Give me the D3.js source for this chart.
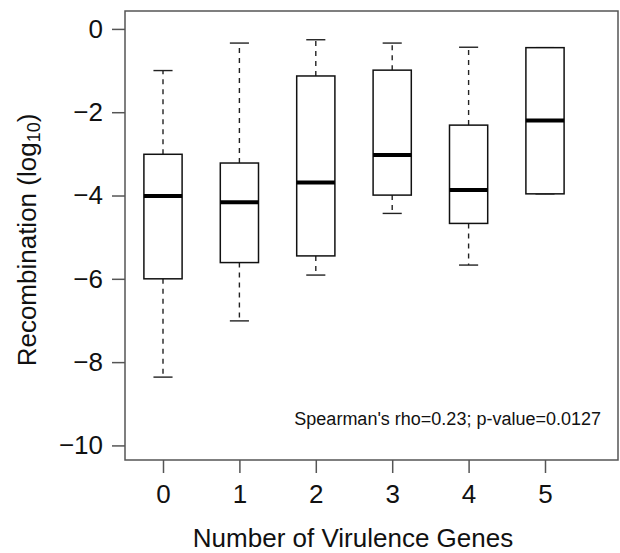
<!DOCTYPE html>
<html>
<head>
<meta charset="utf-8">
<script src="https://cdn.jsdelivr.net/npm/d3@7"></script>
<style>
  html, body { margin: 0; padding: 0; background: #fff; }
  svg { display: block; font-family: "Liberation Sans", Arial, Helvetica, sans-serif; }
</style>
</head>
<body>
<svg id="chart" width="620" height="553"></svg>
<script>
// Recombination (log10) by number of virulence genes: box summaries per group
const genes       = [0, 1, 2, 3, 4, 5];
const whiskerLow  = [-8.36, -7.01, -5.91, -4.43, -5.67, -3.96];
const q1          = [-6.00, -5.61, -5.45, -3.99, -4.67, -3.96];
const medians     = [-4.01, -4.16, -3.69, -3.03, -3.87, -2.20];
const q3          = [-3.01, -3.22, -1.13, -0.99, -2.31, -0.45];
const whiskerHigh = [-1.00, -0.34, -0.26, -0.34, -0.44, -0.45];

const yTicks = [0, -2, -4, -6, -8, -10];
const xTicks = [0, 1, 2, 3, 4, 5];
const statsText = "Spearman's rho=0.23; p-value=0.0127";

const svg = d3.select("#chart");

const frame = { left: 125, top: 11, right: 618, bottom: 460 };

const x = d3.scaleLinear().domain([0, 5]).range([163, 545]);
const y = d3.scaleLinear().domain([-10.35, 0.43]).range([frame.bottom, frame.top]);

const boxWidth = 0.5;      // in group units
const capWidth = 0.25;

const groups = genes.map((g, i) => ({
  g, lo: whiskerLow[i], q1: q1[i], med: medians[i], q3: q3[i], hi: whiskerHigh[i]
}));

const bw = x(boxWidth) - x(0);
const cw = x(capWidth) - x(0);

const plot = svg.append("g");

// whiskers (dashed) and caps
const wh = plot.selectAll("g.whisker").data(groups).join("g").attr("class", "whisker");
wh.append("line")
  .attr("x1", d => x(d.g)).attr("x2", d => x(d.g))
  .attr("y1", d => y(d.q3)).attr("y2", d => y(d.hi))
  .attr("stroke", "#222").attr("stroke-width", 1.4).attr("stroke-dasharray", "5,5");
wh.append("line")
  .attr("x1", d => x(d.g)).attr("x2", d => x(d.g))
  .attr("y1", d => y(d.q1)).attr("y2", d => y(d.lo))
  .attr("stroke", "#222").attr("stroke-width", 1.4).attr("stroke-dasharray", "5,5");
wh.append("line")
  .attr("x1", d => x(d.g) - cw / 2).attr("x2", d => x(d.g) + cw / 2)
  .attr("y1", d => y(d.hi)).attr("y2", d => y(d.hi))
  .attr("stroke", "#222").attr("stroke-width", 1.4);
wh.append("line")
  .attr("x1", d => x(d.g) - cw / 2).attr("x2", d => x(d.g) + cw / 2)
  .attr("y1", d => y(d.lo)).attr("y2", d => y(d.lo))
  .attr("stroke", "#222").attr("stroke-width", 1.4);

// boxes
plot.selectAll("rect.box").data(groups).join("rect").attr("class", "box")
  .attr("x", d => x(d.g) - bw / 2)
  .attr("width", bw)
  .attr("y", d => y(d.q3))
  .attr("height", d => y(d.q1) - y(d.q3))
  .attr("fill", "#fff")
  .attr("stroke", "#111")
  .attr("stroke-width", 1.5);

// medians
plot.selectAll("line.median").data(groups).join("line").attr("class", "median")
  .attr("x1", d => x(d.g) - bw / 2).attr("x2", d => x(d.g) + bw / 2)
  .attr("y1", d => y(d.med)).attr("y2", d => y(d.med))
  .attr("stroke", "#000").attr("stroke-width", 4);

// frame
svg.append("rect")
  .attr("x", frame.left).attr("y", frame.top)
  .attr("width", frame.right - frame.left).attr("height", frame.bottom - frame.top)
  .attr("fill", "none").attr("stroke", "#555").attr("stroke-width", 1.5);

// axes
const yAxis = svg.append("g")
  .attr("transform", `translate(${frame.left},0)`)
  .call(d3.axisLeft(y).tickValues(yTicks).tickSize(13).tickSizeOuter(0).tickPadding(9));
const xAxis = svg.append("g")
  .attr("transform", `translate(0,${frame.bottom})`)
  .call(d3.axisBottom(x).tickValues(xTicks).tickFormat(d3.format("d")).tickSize(13).tickSizeOuter(0).tickPadding(12));

[yAxis, xAxis].forEach(a => {
  a.select(".domain").remove();
  a.selectAll(".tick line").attr("stroke", "#555").attr("stroke-width", 1.5);
  a.selectAll(".tick text")
    .attr("fill", "#111")
    .style("font-family", "'Liberation Sans', Arial, Helvetica, sans-serif")
    .style("font-size", "26px");
});

// axis titles
svg.append("text")
  .attr("x", 353).attr("y", 547)
  .attr("text-anchor", "middle")
  .attr("fill", "#111")
  .style("font-size", "26px")
  .text("Number of Virulence Genes");

const yl = svg.append("text")
  .attr("transform", "translate(36,240) rotate(-90)")
  .attr("text-anchor", "middle")
  .attr("fill", "#111")
  .style("font-size", "26px");
yl.append("tspan").text("Recombination (log");
yl.append("tspan").attr("dy", 4).style("font-size", "18px").text("10");
yl.append("tspan").attr("dy", -4).text(")");

// correlation note
svg.append("text")
  .attr("x", 601).attr("y", 425)
  .attr("text-anchor", "end")
  .attr("fill", "#111")
  .style("font-size", "18px")
  .text(statsText);
</script>
</body>
</html>
